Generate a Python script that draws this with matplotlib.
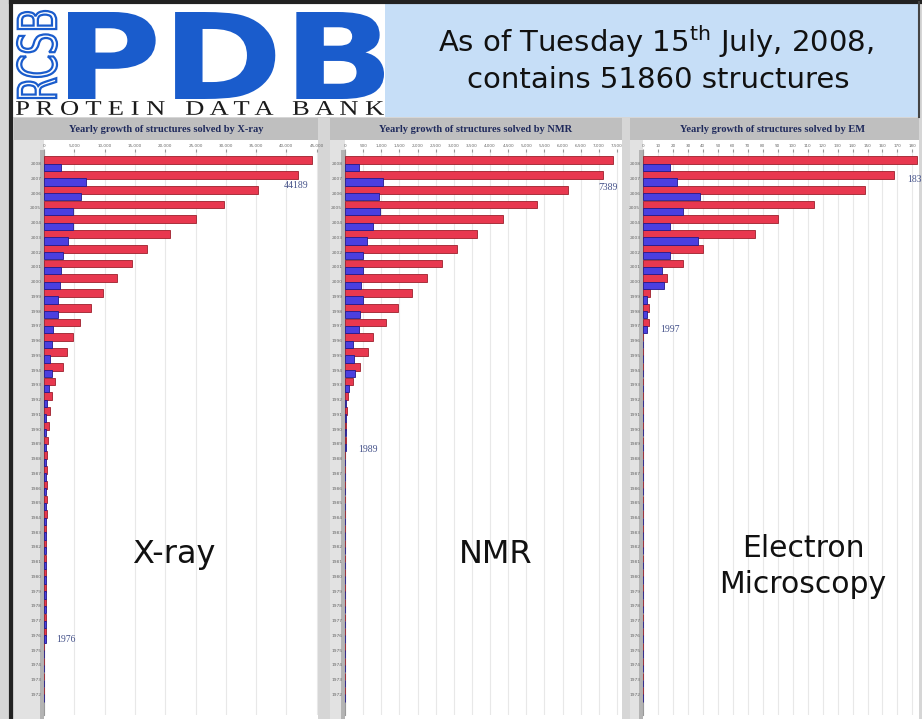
import matplotlib
matplotlib.use("Agg")
import matplotlib.pyplot as plt
from matplotlib.patches import Rectangle, PathPatch
from matplotlib.textpath import TextPath
from matplotlib.transforms import Affine2D
from matplotlib.font_manager import FontProperties

# categories: one row per year, newest at the top
years = list(range(2008, 1971, -1))

# X-ray: total structures (red) and new structures that year (blue)
xray_total = [44189, 41900, 35300, 29700, 25100, 20800, 17000, 14500, 12000, 9700,
              7750, 5950, 4800, 3800, 3100, 1800, 1300, 1000, 800, 700,
              550, 500, 480, 450, 430, 400, 380, 360, 340, 320,
              300, 280, 260, 0, 0, 0, 0]
xray_new = [2800, 6900, 6100, 4800, 4800, 4000, 3100, 2800, 2650, 2300,
            2300, 1500, 1300, 1000, 1300, 800, 500, 400, 350, 330,
            320, 310, 300, 300, 290, 290, 280, 280, 270, 270,
            260, 260, 250, 0, 0, 0, 0]

# NMR
nmr_total = [7389, 7110, 6150, 5300, 4360, 3640, 3090, 2670, 2260, 1850,
             1470, 1130, 780, 625, 414, 230, 92, 47, 30, 20] + [0] * 17
nmr_new = [395, 1040, 946, 965, 781, 616, 487, 487, 432, 488,
           414, 395, 230, 248, 276, 119, 40, 30, 25, 20] + [0] * 17

# Electron microscopy
em_total = [183, 168, 148, 114, 90, 75, 40, 27, 16, 5, 4, 4] + [0] * 25
em_new = [18, 23, 38, 27, 18, 37, 18, 13, 14, 2.5, 3, 3] + [0] * 25

W, H = 922, 719
RED, RED_EDGE = "#e8384f", "#9c1f2c"
BLUE, BLUE_EDGE = "#4b3fe0", "#23198a"
LOGO_BLUE = "#1a5ccc"

fig = plt.figure(figsize=(W / 100, H / 100), dpi=100)

# background axes in pixel coordinates (y goes down)
bg = fig.add_axes([0, 0, 1, 1])
bg.set_xlim(0, W)
bg.set_ylim(H, 0)
bg.axis("off")


def box(x0, y0, x1, y1, color, z=0):
    bg.add_patch(Rectangle((x0, y0), x1 - x0, y1 - y0, facecolor=color, lw=0, zorder=z))


def fit_text(s, x0, y0, x1, y1, fp, face, edge="none", lw=0, vertical=False):
    tp = TextPath((0, 0), s, prop=fp, size=100)
    bb = tp.get_extents()
    tr = Affine2D().translate(-bb.x0, -bb.y0)
    if vertical:
        tr = tr.rotate_deg(90).scale((x1 - x0) / bb.height, -(y1 - y0) / bb.width).translate(x1, y1)
    else:
        tr = tr.scale((x1 - x0) / bb.width, -(y1 - y0) / bb.height).translate(x0, y1)
    bg.add_patch(PathPatch(tr.transform_path(tp), facecolor=face, edgecolor=edge, lw=lw, zorder=3))


# page and header
box(0, 0, W, H, "#d6d6d6")
box(12, 3, 385, 117, "white", 1)
box(385, 3, 919, 117, "#c6def7", 1)
bg.plot([11, 11], [0, H], color="#222222", lw=3, zorder=4)
bg.plot([11, W], [2, 2], color="#222222", lw=3, zorder=4)
bg.plot([919, 919], [2, 117], color="#444444", lw=1.5, zorder=4)

bold = FontProperties(family="DejaVu Sans", weight="bold")
serif = FontProperties(family="Liberation Serif")
fit_text("PDB", 68, 12, 384, 99, bold, LOGO_BLUE)
fit_text("RCSB", 17, 11, 57, 98, FontProperties(family="DejaVu Sans"), "white",
         edge=LOGO_BLUE, lw=1.6, vertical=True)
fit_text("P R O T E I N   D A T A   B A N K", 16, 101, 384, 115, serif, "#1a1a1a")

bg.text(656, 52, r"As of Tuesday 15$^{\rm th}$ July, 2008,", fontsize=21,
        ha="center", va="baseline", color="#111111", zorder=5)
bg.text(658, 88, "contains 51860 structures", fontsize=21,
        ha="center", va="baseline", color="#111111", zorder=5)

panels = [
    dict(col=14, x0=44, x1=318, tx=166, title="Yearly growth of structures solved by X-ray",
         total=xray_total, new=xray_new, xmax=45210, step=5000, big=["X-ray"], bx=174,
         notes=[("44189", 296, 186), ("1976", 66, 639)]),
    dict(col=330, x0=345, x1=622, tx=476, title="Yearly growth of structures solved by NMR",
         total=nmr_total, new=nmr_new, xmax=7637, step=500, big=["NMR"], bx=496,
         notes=[("7389", 608, 187), ("1989", 368, 450)]),
    dict(col=630, x0=643, x1=919, tx=772, title="Yearly growth of structures solved by EM",
         total=em_total, new=em_new, xmax=184.4, step=10, big=["Electron", "Microscopy"], bx=803,
         notes=[("183", 914, 179), ("1997", 670, 329)]),
]

TOP, BOT = 152, 715
rows = list(range(len(years)))

for p in panels:
    box(p["col"], 118, p["x1"], 140, "#bfbfbf", 1)
    box(p["col"], 140, p["x0"], H, "#e2e2e2", 1)
    box(p["x0"] - 4, 150, p["x0"], H, "#b4b4b4", 1)
    box(p["x0"], 140, p["x1"], H, "white", 1)
    bg.text(p["tx"], 130, p["title"], fontsize=7.5, fontweight="bold", family="Liberation Serif",
            color="#1f2a5c", ha="center", va="center", zorder=5)

    ax = fig.add_axes([p["x0"] / W, 1 - BOT / H, (p["x1"] - p["x0"]) / W, (BOT - TOP) / H])
    ax.set_facecolor("white")
    ax.barh([r - 0.22 for r in rows], p["total"], height=0.52, color=RED,
            edgecolor=RED_EDGE, lw=0.6, zorder=3)
    ax.barh([r + 0.25 for r in rows], p["new"], height=0.5, color=BLUE,
            edgecolor=BLUE_EDGE, lw=0.6, zorder=3)
    ax.set_xlim(0, p["xmax"])
    ax.set_ylim(37.39, -0.78)
    ticks = [i * p["step"] for i in range(int(p["xmax"] // p["step"]) + 1)]
    ax.set_xticks(ticks)
    ax.set_xticklabels([f"{t:,}" for t in ticks], fontsize=3, color="#666666")
    ax.xaxis.tick_top()
    ax.tick_params(axis="x", length=2, pad=1, color="#999999")
    ax.set_yticks(rows)
    ax.set_yticklabels([str(y) for y in years], fontsize=3.2, color="#666666")
    ax.tick_params(axis="y", length=0, pad=2)
    ax.grid(axis="x", color="#e8e8e8", lw=0.8, zorder=0)
    ax.set_axisbelow(True)
    for side in ["top", "right", "bottom"]:
        ax.spines[side].set_visible(False)
    ax.spines["left"].set_color("#999999")

# overlay for the annotations, drawn above the chart axes
top = fig.add_axes([0, 0, 1, 1])
top.set_xlim(0, W)
top.set_ylim(H, 0)
top.axis("off")
top.patch.set_alpha(0)

for p in panels:
    for label, x, y in p["notes"]:
        top.text(x, y, label, fontsize=7, family="Liberation Serif", color="#45528a",
                 ha="center", va="center")
    if len(p["big"]) == 1:
        top.text(p["bx"], 563, p["big"][0], fontsize=23, ha="center", va="baseline",
                 color="#111111")
    else:
        for word, y in zip(p["big"], [557, 593]):
            top.text(p["bx"], y, word, fontsize=21.5, ha="center", va="baseline",
                     color="#111111")

fig.savefig("out.png", dpi=100)
